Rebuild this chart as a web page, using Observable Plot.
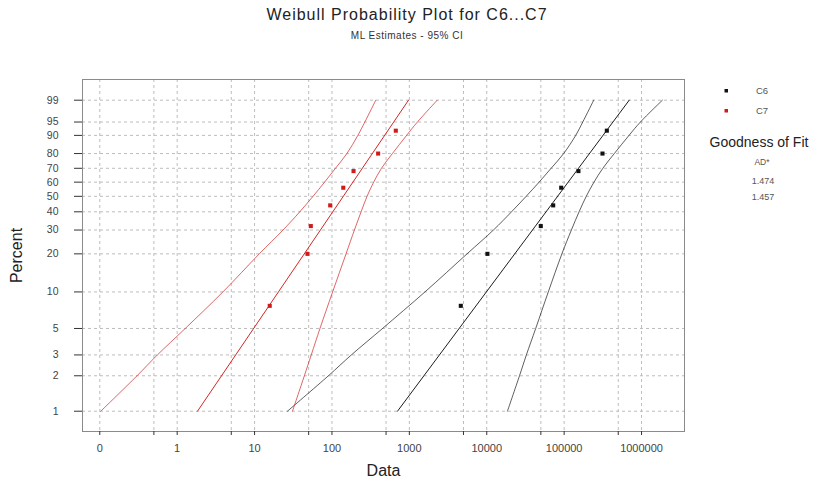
<!DOCTYPE html>
<html>
<head>
<meta charset="utf-8">
<script src="https://cdn.jsdelivr.net/npm/d3@7"></script>
<script src="https://cdn.jsdelivr.net/npm/@observablehq/plot@0.6"></script>
<style>
  html, body { margin: 0; padding: 0; background: #fff; }
  #wrap { position: relative; width: 814px; height: 479px; font-family: "Liberation Sans", Arial, sans-serif; }
  #head { position: relative; height: 50px; }
  #title { position: absolute; left: 0; width: 814px; top: 7px; text-align: center; font-size: 16px; line-height: 16px; letter-spacing: 1px; color: #222; }
  #subtitle { position: absolute; left: 0; width: 814px; top: 31px; text-align: center; font-size: 10px; line-height: 10px; letter-spacing: 0.5px; color: #333; }
  #legend { position: absolute; left: 690px; top: 0; }
</style>
</head>
<body>
<div id="wrap">
  <div id="head">
    <div id="title">Weibull Probability Plot for C6...C7</div>
    <div id="subtitle">ML Estimates - 95% CI</div>
  </div>
  <div id="chart"></div>
  <svg id="legend" width="124" height="210"></svg>
</div>
<script>
// ---- data ----
const seriesNames = ["C6", "C7"];
const seriesColors = ["#111111", "#d11a1a"];
const adValues = ["1.474", "1.457"];

const percentTicks = [1, 2, 3, 5, 10, 20, 30, 40, 50, 60, 70, 80, 90, 95, 99];
const xTickValues = [0.1, 1, 10, 100, 1000, 10000, 100000, 1000000];
const xTickLabels = ["0", "1", "10", "100", "1000", "10000", "100000", "1000000"];
const xMinorTicks = [0.5, 5, 50, 500, 5000, 50000, 500000];

// plotting positions (percent) of the 8 ordered observations
const plotPositions = [7.7, 20, 32, 44, 56, 68, 80, 92];
const c6Values = [4620, 10200, 49900, 72200, 91600, 153000, 313000, 356000];
const c7Values = [15.7, 48.3, 53.3, 94.9, 140, 190, 395, 668];

// fitted lines (ends at 1% and 99%)
const fitPercents = [1, 99];
const c6Fit = [703, 693000];
const c7Fit = [1.83, 975];

// 95% confidence bands, read at these percents
const bandPercents = [1, 2, 3, 5, 10, 20, 30, 40, 50, 60, 70, 80, 90, 95, 99];
const c6BandLeft  = [26.6, 90, 178, 450, 1590, 5560, 12200, 20900, 32300, 47500, 67900, 98500, 141000, 174000, 241000];
const c6BandRight = [18500, 26500, 32500, 42900, 62400, 93500, 124000, 156000, 193000, 243000, 316000, 445000, 689000, 967000, 1860000];
const c7BandLeft  = [0.103, 0.303, 0.555, 1.27, 3.9, 11.5, 23.3, 38.4, 56.9, 80.3, 111, 156, 216, 266, 368];
const c7BandRight = [30.9, 44, 54, 70, 102, 152, 195, 238, 284, 346, 436, 604, 921, 1270, 2290];

// ---- build tables ----
const w = p => Math.log(-Math.log(1 - p / 100));
const pct = t => Math.round(100 * (1 - Math.exp(-Math.exp(t))));

const fitRows = [];
const bandRows = [];
function addCurve(rows, series, id, percents, xs) {
  percents.forEach((p, i) => rows.push({series, id, p, x: xs[i]}));
}
addCurve(fitRows, "C6", "C6-fit", fitPercents, c6Fit);
addCurve(bandRows, "C6", "C6-lo", bandPercents, c6BandLeft);
addCurve(bandRows, "C6", "C6-hi", bandPercents, c6BandRight);
addCurve(fitRows, "C7", "C7-fit", fitPercents, c7Fit);
addCurve(bandRows, "C7", "C7-lo", bandPercents, c7BandLeft);
addCurve(bandRows, "C7", "C7-hi", bandPercents, c7BandRight);

const pointRows = [];
plotPositions.forEach((p, i) => {
  pointRows.push({series: "C6", p, x: c6Values[i]});
  pointRows.push({series: "C7", p, x: c7Values[i]});
});

const gridXValues = [...xTickValues, ...xMinorTicks];
const colorOf = s => seriesColors[seriesNames.indexOf(s)];

const chart = Plot.plot({
  width: 814,
  height: 429,
  marginTop: 29,
  marginBottom: 48,
  marginLeft: 82,
  marginRight: 130,
  style: {fontFamily: "Liberation Sans, Arial, sans-serif", background: "white", color: "#444"},
  x: {type: "log", domain: [0.0598, 3.59e6]},
  y: {type: "linear", domain: [-5.0, 1.935]},
  marks: [
    Plot.gridX(gridXValues, {stroke: "#bdbdbd", strokeOpacity: 1, strokeDasharray: "3,3"}),
    Plot.gridY(percentTicks.map(w), {stroke: "#bdbdbd", strokeOpacity: 1, strokeDasharray: "3,3"}),
    Plot.frame({stroke: "#8a8a8a"}),
    Plot.axisX(xTickValues, {tickSize: 4, tickPadding: 9, fontSize: 11, stroke: "#333",
      tickFormat: d => xTickLabels[xTickValues.indexOf(d)], label: null}),
    Plot.axisX(xMinorTicks, {tickSize: 4, tickFormat: () => "", stroke: "#333", label: null}),
    Plot.axisX([], {label: "Data", labelAnchor: "center", labelArrow: "none", labelOffset: 44, fontSize: 16, color: "#222", tickSize: 0}),
    Plot.axisY(percentTicks.map(w), {tickSize: 8, tickPadding: 16, fontSize: 10.5, stroke: "#333",
      tickFormat: d => String(pct(d)), label: null}),
    Plot.axisY([], {label: "Percent", labelAnchor: "center", labelArrow: "none", labelOffset: 72, fontSize: 16, color: "#222", tickSize: 0}),
    Plot.line(bandRows, {x: "x", y: d => w(d.p), z: "id", stroke: d => colorOf(d.series), curve: "catmull-rom", strokeWidth: 0.9, strokeOpacity: 0.75}),
    Plot.line(fitRows, {x: "x", y: d => w(d.p), z: "id", stroke: d => colorOf(d.series), strokeWidth: 1, strokeOpacity: 0.95}),
    Plot.dot(pointRows, {x: "x", y: d => w(d.p), symbol: "square", r: 2.3, fill: d => colorOf(d.series), stroke: "none"})
  ]
});
document.getElementById("chart").appendChild(chart);

// ---- legend (right panel) ----
const lg = d3.select("#legend");
seriesNames.forEach((s, i) => {
  lg.append("rect").attr("x", 34.5).attr("y", 89 + i * 20).attr("width", 3.5).attr("height", 3.5).attr("fill", seriesColors[i]);
  lg.append("text").attr("x", 72).attr("y", 94 + i * 19.5).attr("text-anchor", "middle")
    .attr("font-size", 9.5).attr("fill", "#555").text(s);
});
lg.append("text").attr("x", 69).attr("y", 146.5).attr("text-anchor", "middle")
  .attr("font-size", 14).attr("fill", "#222").text("Goodness of Fit");
lg.append("text").attr("x", 72).attr("y", 165).attr("text-anchor", "middle")
  .attr("font-size", 8.5).attr("fill", "#555").text("AD*");
adValues.forEach((v, i) => {
  lg.append("text").attr("x", 73).attr("y", 184 + i * 15.5).attr("text-anchor", "middle")
    .attr("font-size", 9).attr("fill", "#555").text(v);
});
lg.attr("style", "font-family: 'Liberation Sans', Arial, sans-serif;");
</script>
</body>
</html>
